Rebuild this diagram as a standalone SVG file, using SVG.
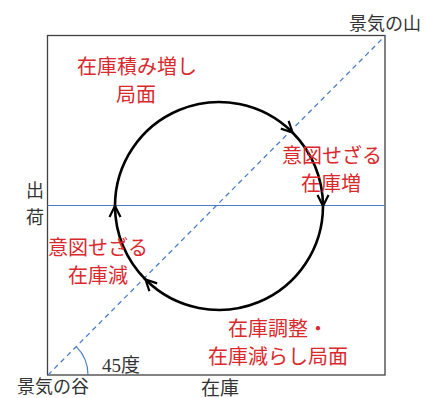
<svg xmlns="http://www.w3.org/2000/svg" width="426" height="398" viewBox="0 0 426 398">
<style>
.red{font-family:"Noto Sans CJK JP","Noto Sans",sans-serif;font-size:20px;fill:#d9292d;text-anchor:middle;dominant-baseline:central}
.blk{font-family:"Noto Sans CJK JP","Noto Sans",sans-serif;font-size:18px;fill:#333;text-anchor:middle;dominant-baseline:central}
.arc{fill:none;stroke:#000;stroke-width:2.6;marker-end:url(#chev)}
</style>
<defs>
<marker id="chev" markerUnits="userSpaceOnUse" viewBox="-14 -9 16 18" markerWidth="16" markerHeight="18" refX="0" refY="0" orient="auto">
<path d="M-11,-5.5 L0,0 L-11,5.5" fill="none" stroke="#000" stroke-width="2.2"/>
</marker>
</defs>
<rect width="426" height="398" fill="#fff"/>
<g id="axes">
<rect x="47.5" y="35.5" width="337.5" height="339.5" fill="none" stroke="#404040" stroke-width="1.3"/>
<line x1="47.5" y1="205.5" x2="385" y2="205.5" stroke="#4a7cc4" stroke-width="1.2"/>
<line x1="48" y1="375" x2="385" y2="36" stroke="#4a7fc8" stroke-width="1.3" stroke-dasharray="5,4"/>
<path d="M76.3,346.7 A40,40 0 0 1 88,375" fill="none" stroke="#4a7fc8" stroke-width="1.2"/>
</g>
<g id="connectors">
<path class="arc" d="M115,206 A104,104 0 0 1 292.5,132.5"/>
<path class="arc" d="M292.5,132.5 A104,104 0 0 1 323,206"/>
<path class="arc" d="M323,206 A104,104 0 0 1 145.5,279.5"/>
<path class="arc" d="M145.5,279.5 A104,104 0 0 1 115,206"/>
</g>
<g id="labels">
<text class="blk" x="385" y="22">景気の山</text>
<text class="blk" x="53" y="385">景気の谷</text>
<text class="blk" x="220" y="386" style="font-size:19px">在庫</text>
<text class="blk" x="35" y="189">出</text>
<text class="blk" x="35" y="216">荷</text>
<text x="102" y="372" style="font-family:'Liberation Serif','Noto Sans CJK JP',serif;font-size:19px;fill:#333">45度</text>
</g>
<g id="phase-build">
<text class="red" x="137" y="65">在庫積み増し</text>
<text class="red" x="136" y="93">局面</text>
</g>
<g id="phase-unintended-increase">
<text class="red" x="332" y="154">意図せざる</text>
<text class="red" x="331" y="182">在庫増</text>
</g>
<g id="phase-unintended-decrease">
<text class="red" x="98" y="246">意図せざる</text>
<text class="red" x="98" y="274">在庫減</text>
</g>
<g id="phase-adjust">
<text class="red" x="278" y="327">在庫調整・</text>
<text class="red" x="278" y="355">在庫減らし局面</text>
</g>
</svg>
